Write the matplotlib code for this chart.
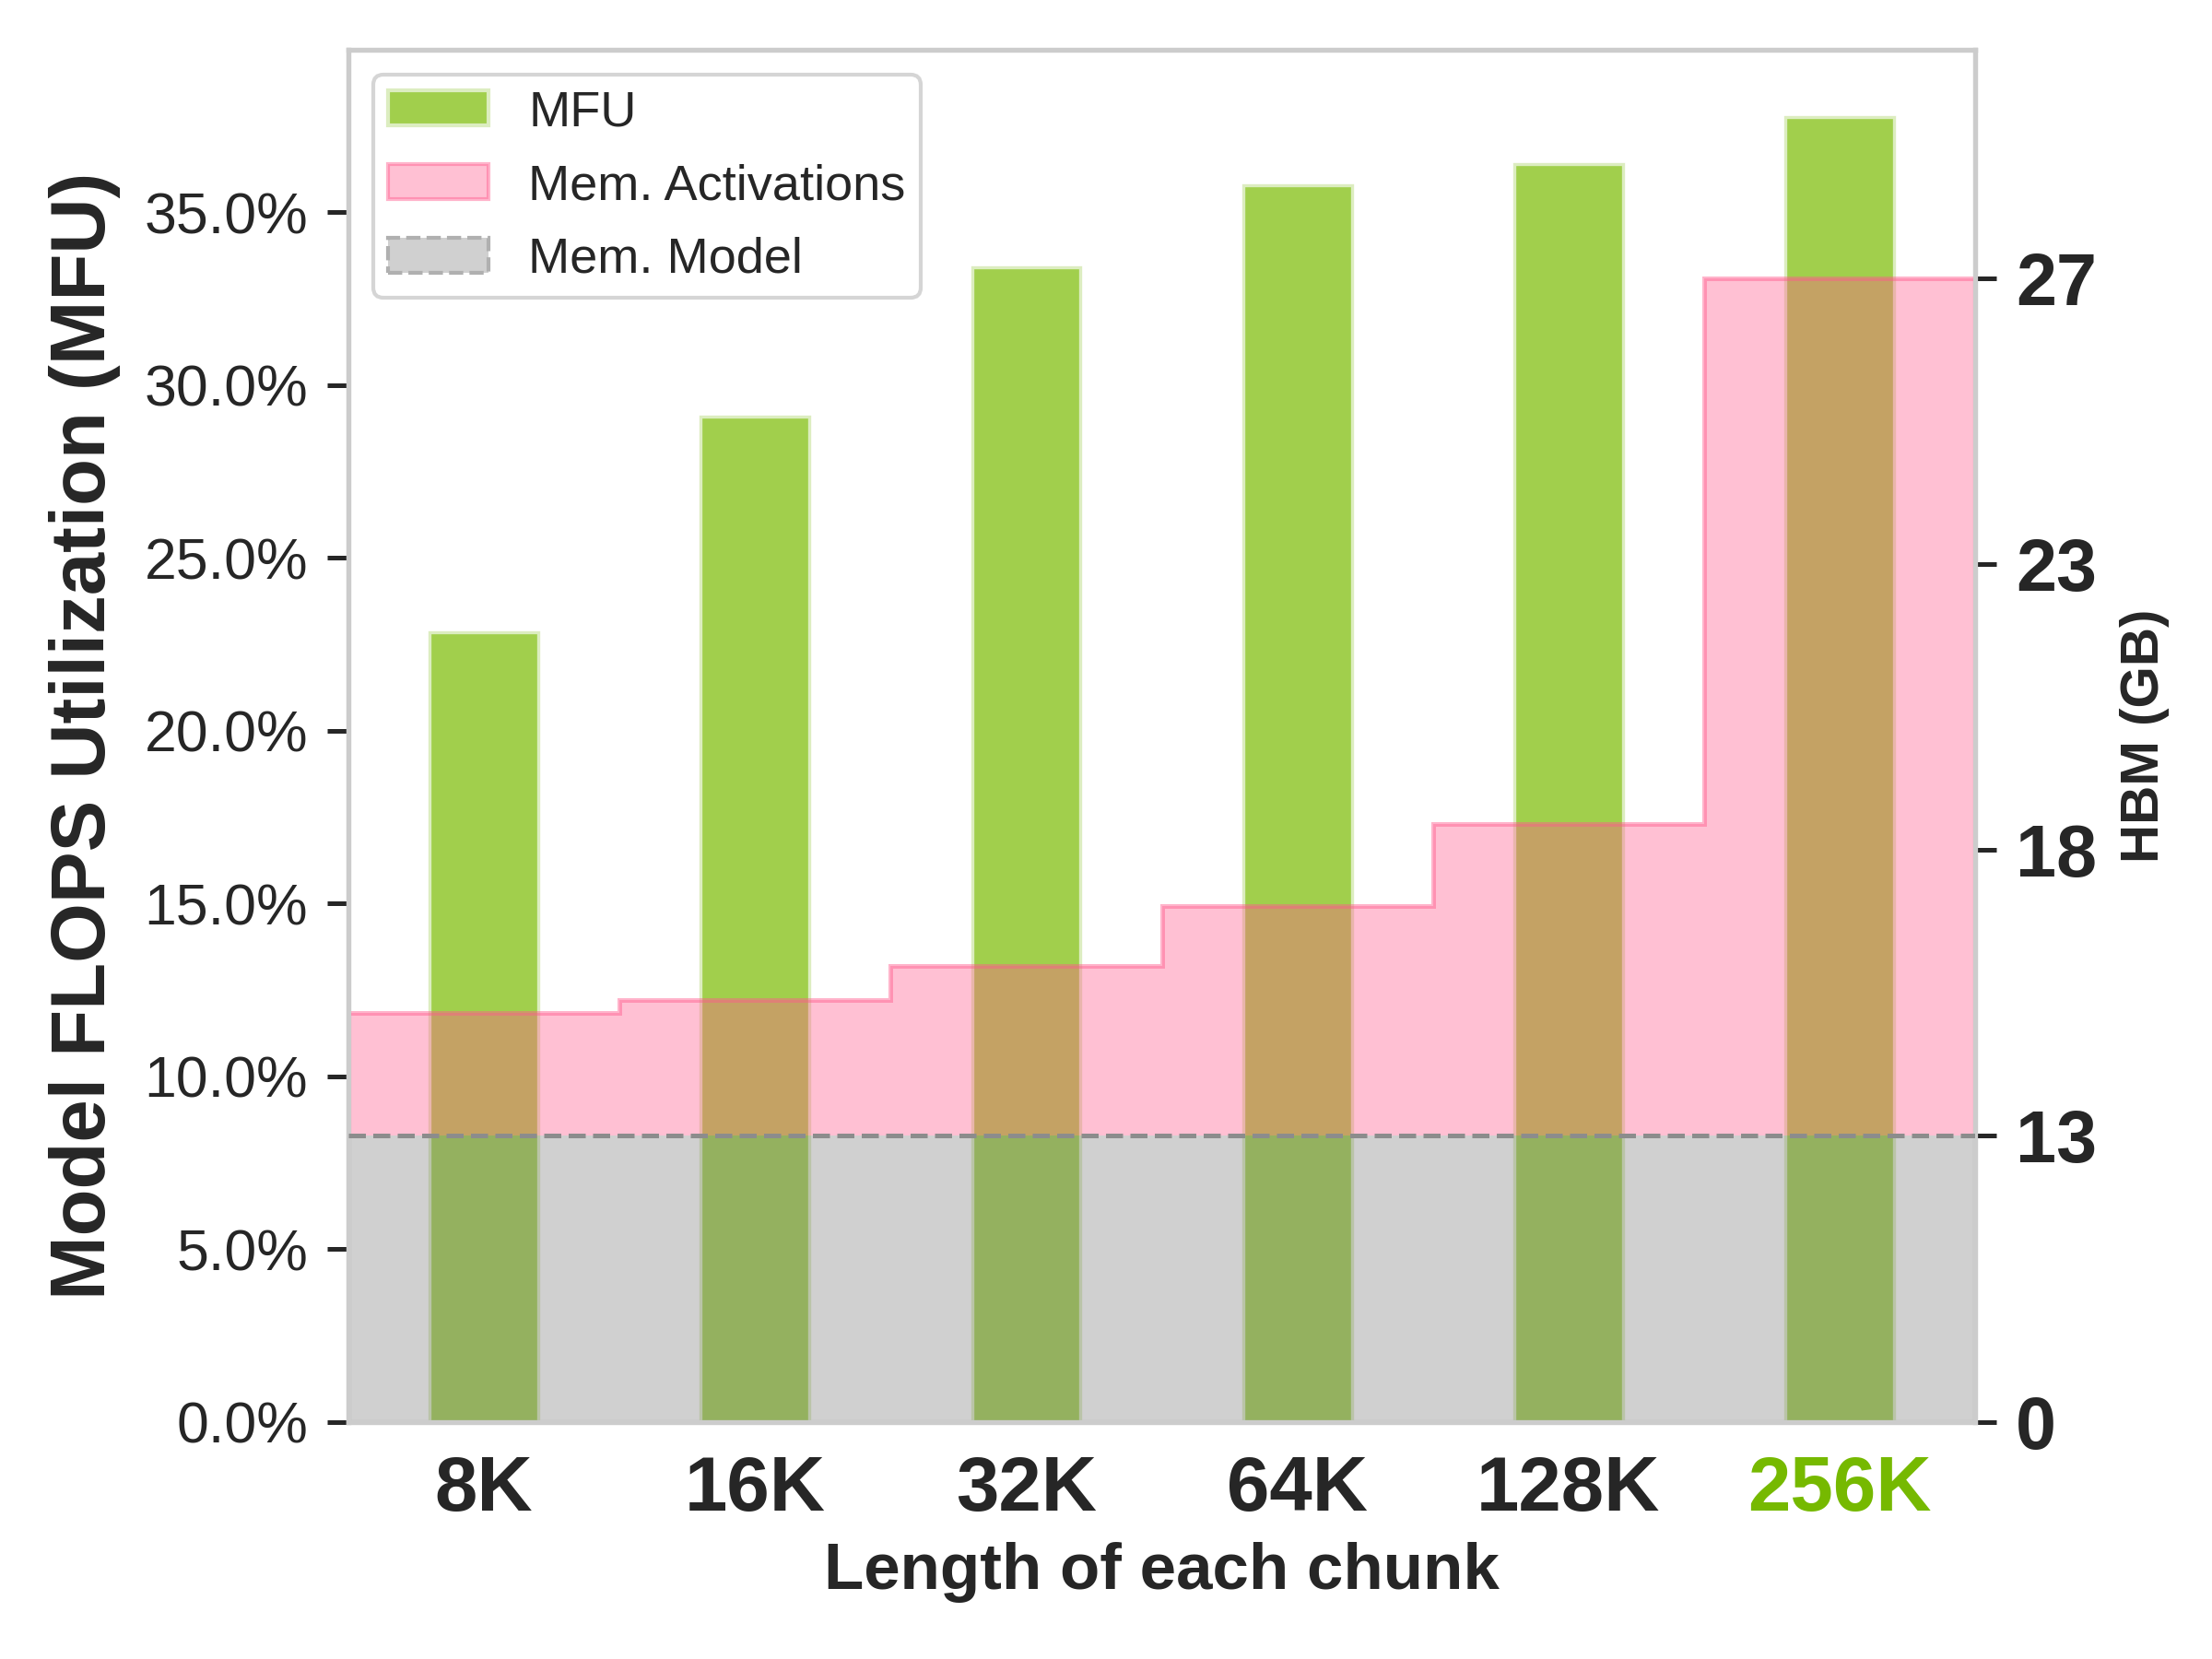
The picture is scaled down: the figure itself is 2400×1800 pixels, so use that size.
import numpy as np
import matplotlib
matplotlib.use("Agg")
import matplotlib.pyplot as plt
import seaborn as sns

from matplotlib.patches import Patch
from matplotlib.ticker import PercentFormatter

# 数据
chunk_labels = ["8K", "16K", "32K", "64K", "128K", "256K"]
mfu = [22.85, 29.09, 33.40, 35.79, 36.40, 37.75]            # %
mem_activations = [15.16, 15.37, 15.98, 17.03, 18.45, 27.0]  # GB
mem_model = 13.0                                             # GB
hbm_ticks = [0, 13, 18, 23, 27]

GREEN = "#a1cf4c"
PINK = "#ff5a8c"
GRAY = "#808080"
TEXT = "#262626"

sns.set_style("whitegrid")
plt.rcParams['font.family'] = ['Liberation Sans', 'DejaVu Sans']
plt.rcParams['axes.edgecolor'] = '#cccccc'
plt.rcParams['axes.linewidth'] = 1.25

fig, ax = plt.subplots(figsize=(8, 6), dpi=300)
fig.subplots_adjust(left=0.1575, right=0.893, top=0.970, bottom=0.143)

x = np.arange(len(chunk_labels))
ax.bar(x, mfu, width=0.4, color=GREEN, edgecolor="#dcedc0", linewidth=0.8, zorder=2)
ax.set_xlim(-0.5, len(x) - 0.5)
ax.set_ylim(0, 39.7)
ax.grid(False)
ax.yaxis.set_major_formatter(PercentFormatter(decimals=1))
ax.tick_params(axis='y', left=True, length=5.5, width=1.2, color=TEXT,
               labelsize=15, labelcolor=TEXT, pad=5)
ax.tick_params(axis='x', bottom=False, pad=5)
ax.set_xticks(x)
ax.set_xticklabels(chunk_labels, fontsize=20, fontweight='bold', color=TEXT)
ax.get_xticklabels()[-1].set_color("#76b900")
ax.set_xlabel("Length of each chunk", fontsize=17, fontweight='bold', color=TEXT, labelpad=4)
ax.set_ylabel("Model FLOPS Utilization (MFU)", fontsize=20, fontweight='bold', color=TEXT,
              labelpad=6)

# 右轴：刻度等距分布（非线性）
ax2 = ax.twinx()
knots_gb = [0, 13, 18, 23, 27, 31]
knots_pos = [0, 1, 2, 3, 4, 5]


def forward(v):
    return np.interp(v, knots_gb, knots_pos)


def inverse(v):
    return np.interp(v, knots_pos, knots_gb)


ax2.set_yscale('function', functions=(forward, inverse))
ax2.set_ylim(0, 30.2)
ax2.grid(False)

edges = np.arange(len(x) + 1) - 0.5
# 模型显存
ax2.fill_between([edges[0], edges[-1]], 0, mem_model, facecolor=GRAY, alpha=0.37,
                 edgecolor='none', zorder=1)
ax2.axhline(mem_model, color="#8c8c8c", linestyle='--', linewidth=1.2, zorder=3)
# 激活显存
ax2.stairs(mem_activations, edges, baseline=mem_model, fill=True,
           facecolor=PINK, alpha=0.38, edgecolor='none', zorder=2)
ax2.stairs(mem_activations, edges, baseline=None, color=PINK, alpha=0.45,
           linewidth=1.2, zorder=2)

ax2.set_yticks(hbm_ticks)
ax2.set_yticklabels([str(t) for t in hbm_ticks], fontsize=19, fontweight='bold', color=TEXT)
ax2.minorticks_off()
ax2.tick_params(axis='y', right=True, length=5.5, width=1.2, color=TEXT, pad=5)
ax2.set_ylabel("HBM (GB)", fontsize=14, fontweight='bold', color=TEXT, labelpad=6)

handles = [
    Patch(facecolor=GREEN, edgecolor="#dcedc0", label="MFU"),
    Patch(facecolor=(1.0, 0.353, 0.549, 0.38), edgecolor=(1.0, 0.353, 0.549, 0.45),
          label="Mem. Activations"),
    Patch(facecolor="#d0d0d0", edgecolor="#b0b0b0", linestyle='--', label="Mem. Model"),
]
leg = ax2.legend(handles=handles, loc='upper left', fontsize=13, frameon=True,
                 framealpha=1.0, edgecolor="#d5d5d5", borderpad=0.3,
                 handlelength=2.0, handleheight=0.7, labelspacing=0.55, handletextpad=0.8)
for t in leg.get_texts():
    t.set_color(TEXT)

fig.savefig("out.png", dpi=300)
plt.close(fig)
